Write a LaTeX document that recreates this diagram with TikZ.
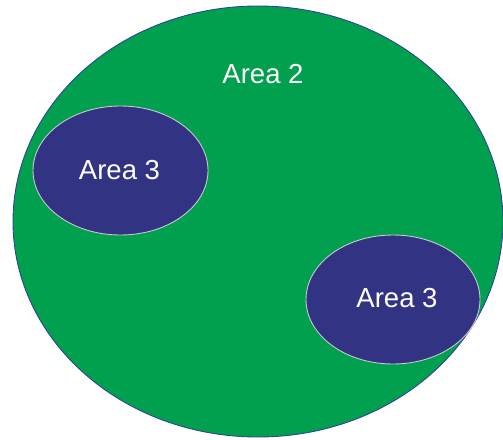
\documentclass[tikz,border=0pt]{standalone}
\usepackage{fontspec}
\setmainfont{Liberation Sans}
\definecolor{areagreen}{HTML}{00A04E}
\definecolor{areablue}{HTML}{333383}
\definecolor{edgeblue}{HTML}{2E4596}
\definecolor{edgegray}{HTML}{C8C8D0}
\begin{document}
\begin{tikzpicture}[x=1pt,y=-1pt,
  bigarea/.style={fill=areagreen,draw=edgeblue,line width=0.9pt},
  smallarea/.style={fill=areablue,draw=edgegray,line width=0.9pt},
  lbl/.style={text=white,inner sep=0pt,font=\fontsize{27.5}{33}\selectfont}]
\useasboundingbox (0,0) rectangle (503,439);
\path[bigarea] (258,221.5) ellipse [x radius=245, y radius=215.5];
\path[smallarea] (120.5,170.5) ellipse [x radius=87.5, y radius=64.5];
\path[smallarea] (393,299.5) ellipse [x radius=87, y radius=64.5];
\node[lbl] (a2) at (263,74) {Area 2};
\node[lbl] (a3a) at (119.5,170) {Area 3};
\node[lbl] (a3b) at (397,298) {Area 3};
\end{tikzpicture}
\end{document}
